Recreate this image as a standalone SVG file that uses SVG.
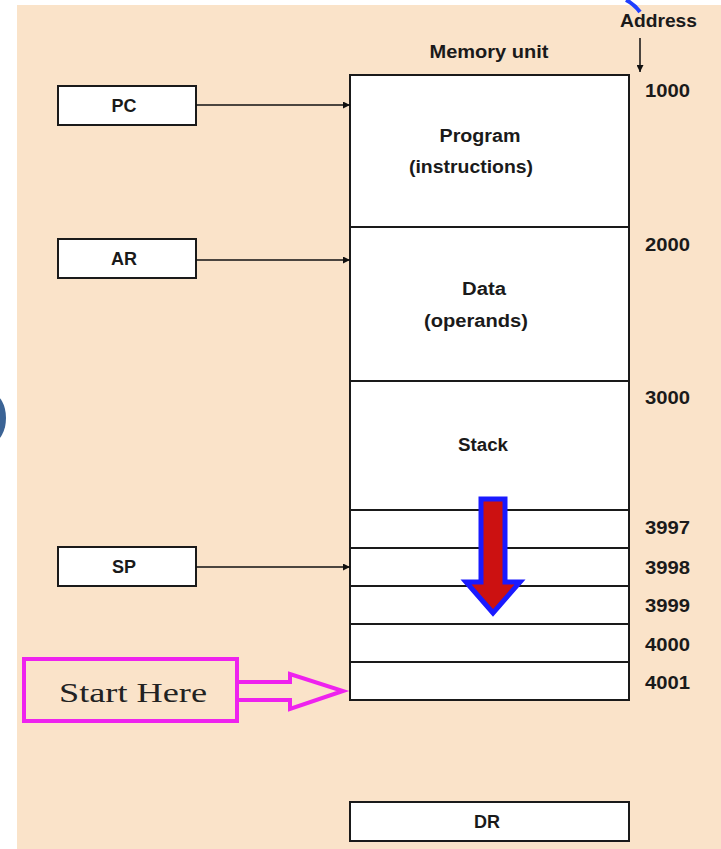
<svg xmlns="http://www.w3.org/2000/svg" width="721" height="849" viewBox="0 0 721 849">
<defs>
<style>
.bg{fill:#fae3c9}
.box{fill:#ffffff;stroke:#1a1a1a;stroke-width:2}
.ln{stroke:#1a1a1a;stroke-width:2;fill:none}
.t{font-family:"Liberation Sans",Arial,sans-serif;font-weight:bold;font-size:18px;fill:#1a1a1a;text-anchor:middle}
.a{font-family:"Liberation Sans",Arial,sans-serif;font-weight:bold;font-size:18px;fill:#1a1a1a}
.wire{stroke:#111;stroke-width:1.5;fill:none}
</style>
<marker id="ah" viewBox="0 0 10 10" refX="10" refY="5" markerWidth="7" markerHeight="7" orient="auto" markerUnits="userSpaceOnUse">
<path d="M0,0 L10,5 L0,10 z" fill="#111"/>
</marker>
</defs>
<rect x="0" y="0" width="721" height="849" fill="#ffffff"/>
<rect class="bg" x="17" y="5" width="704" height="844"/>
<ellipse cx="-8" cy="418" rx="14" ry="24" fill="#3b6395"/>
<path d="M626,0 Q634,4 640,12" stroke="#1f3fff" stroke-width="4" fill="none"/>

<g id="memory">
<rect class="box" x="350" y="75" width="279" height="625"/>
<line class="ln" x1="350" y1="227" x2="629" y2="227"/>
<line class="ln" x1="350" y1="381" x2="629" y2="381"/>
<line class="ln" x1="350" y1="510" x2="629" y2="510"/>
<line class="ln" x1="350" y1="548" x2="629" y2="548"/>
<line class="ln" x1="350" y1="586" x2="629" y2="586"/>
<line class="ln" x1="350" y1="624" x2="629" y2="624"/>
<line class="ln" x1="350" y1="662" x2="629" y2="662"/>
<text class="t" x="489" y="58" textLength="119" lengthAdjust="spacingAndGlyphs">Memory unit</text>
<text class="t" x="480" y="142" textLength="81" lengthAdjust="spacingAndGlyphs">Program</text>
<text class="t" x="471" y="173" textLength="124" lengthAdjust="spacingAndGlyphs">(instructions)</text>
<text class="t" x="484" y="295" textLength="44" lengthAdjust="spacingAndGlyphs">Data</text>
<text class="t" x="476" y="327" textLength="104" lengthAdjust="spacingAndGlyphs">(operands)</text>
<text class="t" x="483" y="451" textLength="50" lengthAdjust="spacingAndGlyphs">Stack</text>
</g>

<g id="addresses">
<text class="a" x="620" y="27" textLength="77" lengthAdjust="spacingAndGlyphs">Address</text>
<text class="a" x="645" y="97" textLength="45" lengthAdjust="spacingAndGlyphs">1000</text>
<text class="a" x="645" y="251" textLength="45" lengthAdjust="spacingAndGlyphs">2000</text>
<text class="a" x="645" y="404" textLength="45" lengthAdjust="spacingAndGlyphs">3000</text>
<text class="a" x="645" y="534" textLength="45" lengthAdjust="spacingAndGlyphs">3997</text>
<text class="a" x="645" y="574" textLength="45" lengthAdjust="spacingAndGlyphs">3998</text>
<text class="a" x="645" y="612" textLength="45" lengthAdjust="spacingAndGlyphs">3999</text>
<text class="a" x="645" y="651" textLength="45" lengthAdjust="spacingAndGlyphs">4000</text>
<text class="a" x="645" y="689" textLength="45" lengthAdjust="spacingAndGlyphs">4001</text>
</g>

<g id="pc">
<rect class="box" x="58" y="86" width="138" height="39"/>
<text class="t" x="124" y="112">PC</text>
</g>
<g id="ar">
<rect class="box" x="58" y="239" width="138" height="39"/>
<text class="t" x="124" y="265">AR</text>
</g>
<g id="sp">
<rect class="box" x="58" y="547" width="138" height="39"/>
<text class="t" x="124" y="573">SP</text>
</g>
<g id="dr">
<rect class="box" x="350" y="802" width="279" height="39"/>
<text class="t" x="487" y="828">DR</text>
</g>

<g id="connectors">
<line class="wire" x1="640" y1="38" x2="640" y2="72" marker-end="url(#ah)"/>
<line class="wire" x1="196" y1="105" x2="350" y2="105" marker-end="url(#ah)"/>
<line class="wire" x1="196" y1="260" x2="350" y2="260" marker-end="url(#ah)"/>
<line class="wire" x1="196" y1="567" x2="350" y2="567" marker-end="url(#ah)"/>
</g>

<g id="stack-arrow">
<path d="M481,499 L505,499 L505,582 L520,582 L493,613 L466,582 L481,582 Z" fill="#cc1111" stroke="#1a1aff" stroke-width="5" stroke-linejoin="miter"/>
</g>

<g id="start-here">
<rect x="24" y="659" width="213" height="62" fill="none" stroke="#ee22ee" stroke-width="4"/>
<path d="M237,682 L290,682 L290,674 L343,691 L290,709 L290,700 L237,700" fill="none" stroke="#ee22ee" stroke-width="4" stroke-linejoin="miter"/>
<text x="133" y="702" font-family="'Liberation Serif','Times New Roman',serif" font-size="27" fill="#222" text-anchor="middle" textLength="148" lengthAdjust="spacingAndGlyphs">Start Here</text>
</g>
</svg>
